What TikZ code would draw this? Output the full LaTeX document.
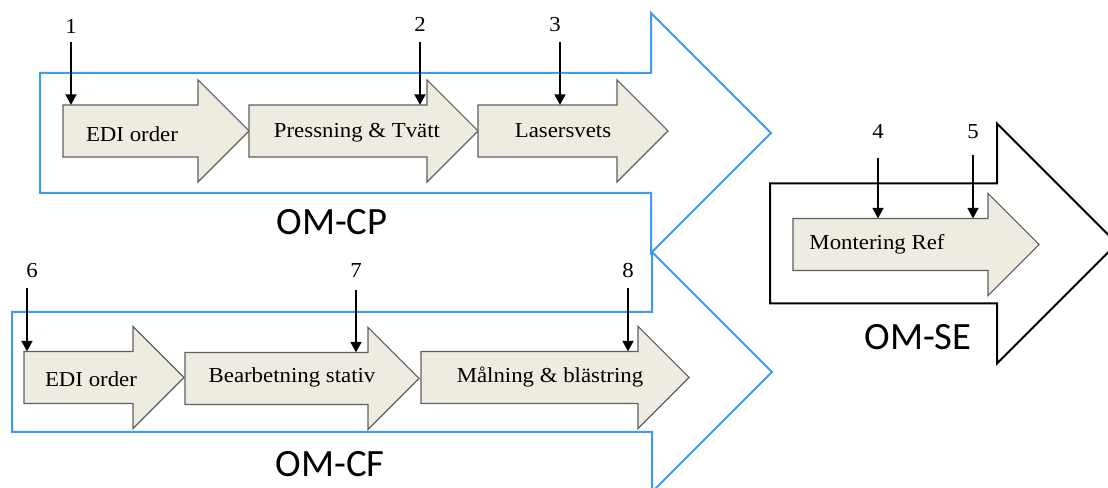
\documentclass[tikz,border=0pt]{standalone}
\usepackage{fontspec}
\setmainfont{Liberation Serif}[FakeStretch=1.07]
\newfontfamily\stagefont{Carlito}
\usetikzlibrary{arrows.meta}

\definecolor{cpblue}{RGB}{59,155,245}
\definecolor{stepfill}{RGB}{238,236,225}
\definecolor{stepline}{RGB}{95,95,95}

% process step: name, body left, head start, middle y, text x, text baseline, text
\newcommand{\steparrow}[7]{%
  \draw[stepshape] (#2,#4-26) -- (#3,#4-26) -- (#3,#4-51) -- (#3+51,#4)
    -- (#3,#4+51) -- (#3,#4+26) -- (#2,#4+26) -- cycle;
  \coordinate (#1-top) at (#2,#4-26);
  \node[steptext] (#1) at (#5,#6) {#7};
}
% stage frame: style, body left, head start, middle y
\newcommand{\stagearrow}[4]{%
  \draw[#1] (#2,#4-60) -- (#3,#4-60) -- (#3,#4-120) -- (#3+120,#4)
    -- (#3,#4+120) -- (#3,#4+60) -- (#2,#4+60) -- cycle;
}

\begin{document}
\begin{tikzpicture}[
  x=0.75pt, y=-0.75pt,
  cpframe/.style={draw=cpblue, line width=1.5pt, line join=miter},
  seframe/.style={draw=black, line width=1.5pt, line join=miter},
  stepshape/.style={fill=stepfill, draw=stepline, line width=0.8pt},
  steptext/.style={anchor=base, inner sep=0pt, font=\fontsize{16}{19}\selectfont},
  numlabel/.style={anchor=base, inner sep=0pt, font=\fontsize{16}{19}\selectfont},
  stagelabel/.style={anchor=base, inner sep=0pt, font=\stagefont\fontsize{29}{34}\selectfont},
  numarrow/.style={line width=2pt, -{Triangle[length=8pt,width=8pt]}}
]
\useasboundingbox (0,0) rectangle (1108,488);
\clip (0,0) rectangle (1108,488);

% stage frames
\stagearrow{cpframe}{40}{651}{133}
\stagearrow{cpframe}{12}{652}{372}
\stagearrow{seframe}{770}{997}{243.5}

% OM-CP steps
\steparrow{cpedi}{63}{198}{131}{132}{142}{EDI order}
\steparrow{cppress}{249}{427}{131}{357}{138}{Pressning \& Tvätt}
\steparrow{cplaser}{478}{617}{131}{563}{138}{Lasersvets}

% OM-CF steps
\steparrow{cfedi}{24}{133}{377.5}{91}{387}{EDI order}
\steparrow{cfbear}{185}{368}{378.5}{292}{383}{Bearbetning stativ}
\steparrow{cfpaint}{421}{638}{377.5}{550}{383}{Målning \& blästring}

% OM-SE step
\steparrow{seref}{793}{988}{244.5}{877}{250}{Montering Ref}

% stage names
\node[stagelabel] (omcp) at (332,235) {OM-CP};
\node[stagelabel] (omcf) at (330,477) {OM-CF};
\node[stagelabel] (omse) at (918,350) {OM-SE};

% numbered points
\node[numlabel] (n1) at (71,34) {1};
\node[numlabel] (n2) at (420,32) {2};
\node[numlabel] (n3) at (555,32) {3};
\node[numlabel] (n4) at (878,139) {4};
\node[numlabel] (n5) at (973,139) {5};
\node[numlabel] (n6) at (32,278) {6};
\node[numlabel] (n7) at (356,278) {7};
\node[numlabel] (n8) at (628,278) {8};

\draw[numarrow] ([yshift=-6pt]n1.south) -- (n1.south |- cpedi-top);
\draw[numarrow] ([yshift=-7.5pt]n2.south) -- (n2.south |- cppress-top);
\draw[numarrow] ([xshift=3.75pt,yshift=-7.5pt]n3.south) -- ([xshift=3.75pt]n3.south |- cplaser-top);
\draw[numarrow] ([yshift=-14.25pt]n4.south) -- (n4.south |- seref-top);
\draw[numarrow] ([yshift=-12pt]n5.south) -- (n5.south |- seref-top);
\draw[numarrow] ([xshift=-3.75pt,yshift=-7.5pt]n6.south) -- ([xshift=-3.75pt]n6.south |- cfedi-top);
\draw[numarrow] ([yshift=-9pt]n7.south) -- (n7.south |- cfbear-top);
\draw[numarrow] ([yshift=-7.5pt]n8.south) -- (n8.south |- cfpaint-top);

\end{tikzpicture}
\end{document}
